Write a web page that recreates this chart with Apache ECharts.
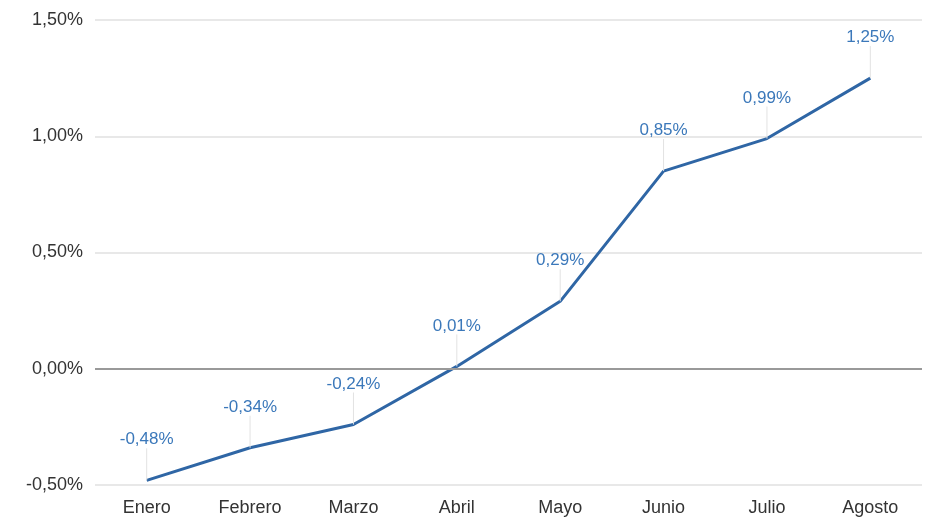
<!DOCTYPE html>
<html>
<head>
<meta charset="utf-8">
<script src="https://cdn.jsdelivr.net/npm/echarts@6/dist/echarts.min.js"></script>
<style>html,body{margin:0;padding:0;background:#fff;}#c{width:928px;height:520px;}</style>
</head>
<body>
<div id="c"></div>
<script>
const categories = ['Enero','Febrero','Marzo','Abril','Mayo','Junio','Julio','Agosto'];
const values = [-0.48, -0.34, -0.24, 0.01, 0.29, 0.85, 0.99, 1.25];
const yTicks = [-0.5, 0, 0.5, 1.0, 1.5];

const fmt = v => v.toFixed(2).replace('.', ',') + '%';
const FONT = '"Liberation Sans", Arial, sans-serif';
const chart = echarts.init(document.getElementById('c'), null, {renderer: 'canvas'});
chart.setOption({
  animation: false,
  grid: {left: 95, right: 6, top: 20, bottom: 35},
  xAxis: {
    type: 'category',
    data: categories,
    boundaryGap: true,
    axisLine: {show: false},
    axisTick: {show: false},
    axisLabel: {color: '#333', fontSize: 18, fontFamily: FONT, margin: 14}
  },
  yAxis: {
    type: 'value',
    min: yTicks[0], max: yTicks[yTicks.length - 1], interval: 0.5,
    axisLine: {show: false},
    axisTick: {show: false},
    axisLabel: {color: '#333', fontSize: 18, fontFamily: FONT, margin: 12, formatter: fmt},
    splitLine: {lineStyle: {color: '#e8e8e8', width: 2}}
  },
  series: [{
    type: 'line',
    data: values,
    symbol: 'circle',
    symbolSize: 0.1,
    showSymbol: true,
    lineStyle: {color: '#2f66a5', width: 3},
    itemStyle: {color: '#2f66a5'},
    label: {
      show: true, position: 'top', distance: 4,
      color: '#3b78ba', fontSize: 17, fontFamily: FONT,
      formatter: p => fmt(p.value)
    },
    labelLayout: {dy: -28},
    labelLine: {show: true, lineStyle: {color: '#e2e2e2', width: 1}},
    markLine: {
      silent: true, symbol: 'none',
      label: {show: false},
      lineStyle: {color: '#999', width: 2, type: 'solid'},
      data: [{yAxis: 0}]
    },
    z: 3
  }]
});
</script>
</body>
</html>
